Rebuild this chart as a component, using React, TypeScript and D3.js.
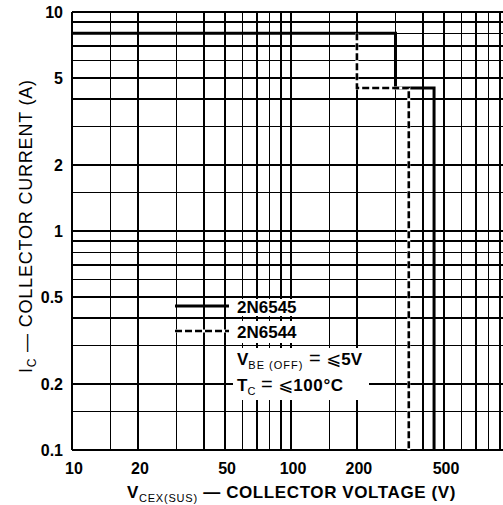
import React from "react";
import * as d3 from "d3";

// grid values (log-log paper)
const xGrid = [10, 15, 20, 30, 40, 50, 60, 70, 80, 90, 100, 150, 200, 300, 400, 500, 600, 700, 800, 900];
const yGrid = [0.1, 0.15, 0.2, 0.3, 0.4, 0.5, 0.6, 0.7, 0.8, 0.9, 1, 1.5, 2, 3, 4, 5, 6, 7, 8, 9, 10];
const xTickLabels = [10, 20, 50, 100, 200, 500];
const yTickLabels = [0.1, 0.2, 0.5, 1, 2, 5, 10];

interface Pt {
    v: number;
    i: number;
}

// safe operating boundaries
const curve2N6545: Pt[] = [
    { v: 10, i: 8 },
    { v: 300, i: 8 },
    { v: 300, i: 4.5 },
    { v: 450, i: 4.5 },
    { v: 450, i: 0.1 },
];
const curve2N6544: Pt[] = [
    { v: 200, i: 8 },
    { v: 200, i: 4.5 },
    { v: 345, i: 4.5 },
    { v: 345, i: 0.1 },
];

const W = 503;
const H = 505;
const FONT = "'Liberation Sans', Arial, Helvetica, sans-serif";

const App: React.FC = () => {
    const x = d3.scaleLog().domain([10, 1000]).range([72, 510]);
    const y = d3.scaleLog().domain([0.1, 10]).range([450, 12]);

    const line = d3
        .line<Pt>()
        .x((d) => x(d.v))
        .y((d) => y(d.i));

    const [x0] = x.range();
    const [y0, y1] = y.range();

    return (
        <svg
            width={W}
            height={H}
            style={{ position: "absolute", left: 0, top: 0, background: "#fff" }}
            fontFamily={FONT}
        >
            <rect width={W} height={H} fill="#fff" />

            {/* grid */}
            <g stroke="#000" strokeWidth={1.3} shapeRendering="crispEdges">
                {xGrid.map((v) => (
                    <line key={"x" + v} x1={x(v)} x2={x(v)} y1={y1} y2={y0} />
                ))}
                {yGrid.map((v) => (
                    <line key={"y" + v} x1={x0} x2={W} y1={y(v)} y2={y(v)} />
                ))}
            </g>
            <line x1={x0} x2={x0} y1={y1} y2={y0} stroke="#000" strokeWidth={2} />
            <line x1={x0} x2={W} y1={y0} y2={y0} stroke="#000" strokeWidth={2} />

            {/* white patches behind legend / notes */}
            <g fill="#fff">
                <rect x={232} y={299} width={69} height={17} />
                <rect x={232} y={321} width={69} height={22} />
                <rect x={233} y={348} width={136} height={52} />
            </g>

            {/* curves */}
            <path d={line(curve2N6545) || ""} fill="none" stroke="#000" strokeWidth={3} />
            <path d={line(curve2N6544) || ""} fill="none" stroke="#fff" strokeWidth={3} />
            <path
                d={line(curve2N6544) || ""}
                fill="none"
                stroke="#000"
                strokeWidth={2.6}
                strokeDasharray="7 3"
            />

            {/* legend */}
            <line x1={175} x2={229} y1={306} y2={306} stroke="#000" strokeWidth={3} />
            <line x1={175} x2={229} y1={331} y2={331} stroke="#fff" strokeWidth={3} />
            <line x1={175} x2={229} y1={331} y2={331} stroke="#000" strokeWidth={2.6} strokeDasharray="7 3" />
            <text x={237} y={313} fontSize={17} fontWeight="bold">2N6545</text>
            <text x={237} y={338} fontSize={17} fontWeight="bold">2N6544</text>

            <text x={237} y={365} fontSize={17} fontWeight="bold">
                V
                <tspan fontSize={11} fontWeight="normal" dy={4} letterSpacing={1}>BE (OFF)</tspan>
                <tspan dy={-4} fontWeight="normal" fontSize={20}> = </tspan>
                <tspan fontFamily="'DejaVu Sans', sans-serif" fontWeight="normal" fontSize={18}>⩽</tspan>
                <tspan>5V</tspan>
            </text>
            <text x={237} y={391} fontSize={17} fontWeight="bold">
                T
                <tspan fontSize={11} fontWeight="normal" dy={4}>C</tspan>
                <tspan dy={-4} fontWeight="normal" fontSize={20}> = </tspan>
                <tspan fontFamily="'DejaVu Sans', sans-serif" fontWeight="normal" fontSize={18}>⩽</tspan>
                <tspan letterSpacing={0.6}>100°C</tspan>
            </text>

            {/* tick labels */}
            <g fontSize={16} fontWeight="bold">
                {yTickLabels.map((v) => (
                    <text key={"yl" + v} x={63} y={y(v) + 6} textAnchor="end">
                        {String(v)}
                    </text>
                ))}
                {xTickLabels.map((v) => (
                    <text key={"xl" + v} x={x(v) + 2} y={474} textAnchor="middle">
                        {String(v)}
                    </text>
                ))}
            </g>

            {/* axis titles */}
            <text x={127} y={498} fontSize={17} fontWeight="bold" letterSpacing={0.6}>
                V
                <tspan fontSize={11} fontWeight="normal" dy={4} letterSpacing={0.8}>CEX(SUS)</tspan>
                <tspan dy={-4}> — COLLECTOR VOLTAGE (V)</tspan>
            </text>
            <text transform="translate(32,373) rotate(-90)" fontSize={18} letterSpacing={0.8}>
                I
                <tspan fontSize={12} dy={4}>C</tspan>
                <tspan dy={-4}> — COLLECTOR CURRENT (A)</tspan>
            </text>
        </svg>
    );
};

export default App;
